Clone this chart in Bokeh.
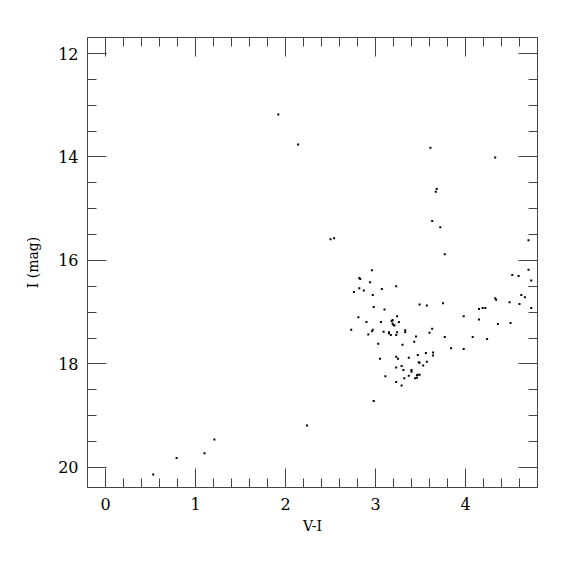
from bokeh.plotting import figure
from bokeh.models import Range1d, LinearAxis, SingleIntervalTicker, ColumnDataSource, CustomJSTickFormatter
from bokeh.embed import file_html
from bokeh.resources import INLINE

# V-I colour and I magnitude of the stars
v_i = [0.53, 0.79, 1.10, 1.21, 2.24, 1.92, 2.14, 2.50, 2.54, 3.61, 4.33, 3.68, 3.67,
       3.63, 3.72, 3.77, 4.70, 2.98,
       2.96, 2.82, 2.83, 4.70, 4.52, 4.59, 4.73, 2.94, 2.82, 2.76, 2.87, 3.07, 3.23,
       2.97, 4.62, 4.66, 4.33, 4.34, 3.49, 3.57, 3.75, 4.49, 4.60, 4.73, 4.15, 4.19,
       4.22, 2.98, 3.10, 2.81, 3.24, 3.98, 4.15, 2.90, 3.06, 3.19, 3.18, 3.26, 3.19,
       3.20, 3.21, 4.36, 4.50, 2.73, 2.97, 2.96, 2.92, 3.09, 3.15, 3.15, 3.17, 3.23,
       3.24, 3.33, 3.33, 3.63, 3.60, 3.45, 3.77, 4.08, 4.24, 3.43, 3.03, 3.30, 3.84,
       3.98, 3.56, 3.64, 3.64, 3.47, 3.23, 3.25, 3.05, 3.37, 3.48, 3.49, 3.57, 3.53,
       3.23, 3.29, 3.31, 3.40, 3.40, 3.11, 3.37, 3.46, 3.47, 3.49, 3.44, 3.46, 3.32,
       3.23, 3.29]
i_mag = [20.14, 19.82, 19.73, 19.46, 19.19, 13.18, 13.76, 15.59, 15.57, 13.82, 14.01,
         14.62, 14.67, 15.24, 15.36, 15.88, 15.61, 18.72,
         16.19, 16.34, 16.36, 16.18, 16.28, 16.30, 16.39, 16.42, 16.54, 16.61, 16.58,
         16.55, 16.50, 16.67, 16.67, 16.71, 16.73, 16.76, 16.85, 16.87, 16.83, 16.81,
         16.84, 16.92, 16.94, 16.92, 16.92, 16.90, 16.95, 17.10, 17.08, 17.08, 17.14,
         17.19, 17.19, 17.15, 17.17, 17.19, 17.22, 17.25, 17.26, 17.23, 17.21, 17.34,
         17.34, 17.37, 17.43, 17.38, 17.39, 17.41, 17.44, 17.44, 17.39, 17.35, 17.39,
         17.32, 17.40, 17.47, 17.48, 17.48, 17.52, 17.57, 17.61, 17.63, 17.70, 17.71,
         17.79, 17.78, 17.84, 17.83, 17.86, 17.90, 17.90, 17.88, 17.97, 17.98, 17.96,
         18.03, 18.07, 18.04, 18.12, 18.12, 18.15, 18.24, 18.23, 18.22, 18.21, 18.21,
         18.28, 18.27, 18.28, 18.35, 18.42]

x_label = "V-I"
y_label = "I (mag)"

src = ColumnDataSource(dict(x=v_i, y=i_mag))

p = figure(frame_width=450, frame_height=450,
           min_border_left=87, min_border_right=30, min_border_top=37, min_border_bottom=80,
           x_range=Range1d(-0.2, 4.8), y_range=Range1d(20.39, 11.69),
           output_backend="svg", toolbar_location=None, tools="")
p.outline_line_color = None
p.xgrid.visible = False
p.ygrid.visible = False
p.background_fill_color = "white"
p.border_fill_color = "white"

p.scatter("x", "y", source=src, marker="square", size=2.0, color="black", line_color=None)

AX = "#444444"
FONT = "DejaVu Serif"

def style(ax, labels=True):
    ax.axis_line_color = AX
    ax.major_tick_line_color = AX
    ax.minor_tick_line_color = AX
    ax.major_tick_in = 19
    ax.major_tick_out = 0
    ax.minor_tick_in = 9
    ax.minor_tick_out = 0
    ax.major_label_text_font = FONT
    ax.major_label_text_color = "black"
    ax.axis_label_text_font = FONT
    ax.axis_label_text_font_style = "normal"
    ax.axis_label_text_color = "black"
    ax.major_label_text_font_size = "16px"
    ax.axis_label_text_font_size = "14px"
    if not labels:
        ax.formatter = CustomJSTickFormatter(code="return ''")
        ax.major_label_standoff = 0
        ax.axis_label = None

xtick = lambda: SingleIntervalTicker(interval=1, num_minor_ticks=5)
ytick = lambda: SingleIntervalTicker(interval=2, num_minor_ticks=4)

p.xaxis.ticker = xtick()
p.yaxis.ticker = ytick()
style(p.xaxis[0])
style(p.yaxis[0])
p.xaxis.axis_label = x_label
p.yaxis.axis_label = y_label
p.xaxis.major_label_standoff = 10
p.xaxis.axis_label_standoff = 5
p.yaxis.major_label_standoff = 9
p.yaxis.axis_label_standoff = 14
p.yaxis.major_label_orientation = "horizontal"

top = LinearAxis(ticker=xtick())
style(top, labels=False)
p.add_layout(top, "above")
right = LinearAxis(ticker=ytick())
style(right, labels=False)
p.add_layout(right, "right")

open("out.html", "w").write(file_html(p, INLINE))
